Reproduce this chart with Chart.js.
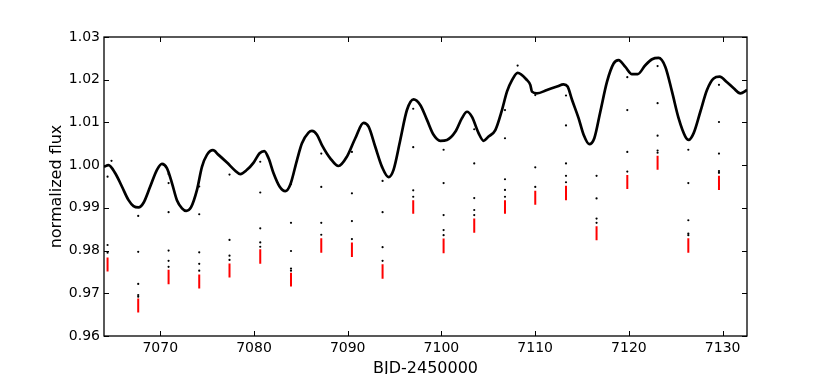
<!DOCTYPE html>
<html><head><meta charset="utf-8">
<script src="https://cdn.jsdelivr.net/npm/chart.js@4/dist/chart.umd.min.js"></script>
<style>html,body{margin:0;padding:0;background:#fff}#wrap{width:830px;height:374px}</style>
</head><body><div id="wrap"><canvas id="c" width="830" height="374"></canvas></div>
<script>
// Light curve (traced along the dense band of black points)
const curveTimes = [7064.0, 7064.48, 7065.20, 7065.91, 7066.62, 7067.15, 7067.68, 7068.22, 7068.93, 7069.65, 7070.18, 7070.71, 7071.25, 7071.78, 7072.32, 7072.77, 7073.28, 7073.92, 7074.45, 7074.98, 7075.62, 7076.22, 7077.12, 7078.00, 7078.54, 7079.25, 7079.96, 7080.60, 7081.10, 7081.56, 7082.09, 7082.73, 7083.34, 7083.87, 7084.59, 7085.12, 7085.82, 7086.19, 7086.72, 7087.25, 7088.14, 7089.02, 7089.92, 7090.81, 7091.69, 7092.23, 7092.94, 7093.66, 7094.36, 7094.89, 7095.61, 7096.32, 7097.03, 7097.74, 7098.46, 7099.16, 7099.88, 7100.59, 7101.48, 7102.19, 7102.73, 7103.26, 7103.96, 7104.50, 7105.03, 7105.75, 7106.46, 7106.99, 7107.53, 7108.13, 7109.13, 7109.48, 7109.66, 7110.19, 7111.26, 7112.33, 7113.03, 7113.46, 7113.93, 7114.63, 7115.17, 7115.77, 7116.31, 7116.95, 7117.66, 7118.37, 7118.90, 7119.62, 7120.33, 7120.93, 7121.75, 7122.47, 7123.17, 7123.89, 7124.60, 7125.30, 7126.02, 7126.37, 7126.91, 7127.62, 7128.33, 7129.04, 7129.68, 7130.47, 7131.18, 7131.89, 7132.61];
const curveFlux = [0.9996, 1.0000, 0.9981, 0.9950, 0.9918, 0.9904, 0.9901, 0.9912, 0.9950, 0.9989, 1.0003, 0.9993, 0.9958, 0.9918, 0.9899, 0.9893, 0.9901, 0.9942, 0.9996, 1.0024, 1.0035, 1.0024, 1.0006, 0.9987, 0.9979, 0.9989, 1.0006, 1.0028, 1.0033, 1.0016, 0.9981, 0.9950, 0.9939, 0.9954, 1.0012, 1.0051, 1.0076, 1.0080, 1.0071, 1.0047, 1.0016, 0.9998, 1.0020, 1.0063, 1.0099, 1.0090, 1.0043, 0.9996, 0.9972, 0.9989, 1.0059, 1.0129, 1.0154, 1.0141, 1.0106, 1.0071, 1.0057, 1.0059, 1.0078, 1.0110, 1.0125, 1.0113, 1.0075, 1.0057, 1.0067, 1.0082, 1.0129, 1.0172, 1.0199, 1.0216, 1.0199, 1.0188, 1.0172, 1.0168, 1.0176, 1.0184, 1.0189, 1.0184, 1.0153, 1.0110, 1.0071, 1.0049, 1.0063, 1.0125, 1.0195, 1.0238, 1.0246, 1.0230, 1.0213, 1.0213, 1.0234, 1.0248, 1.0251, 1.0230, 1.0172, 1.0110, 1.0067, 1.0059, 1.0075, 1.0125, 1.0176, 1.0203, 1.0207, 1.0194, 1.0180, 1.0168, 1.0176];

// Transits
const transitTimes = [7064.38, 7067.65, 7070.89, 7074.16, 7077.39, 7080.67, 7083.95, 7087.18, 7090.45, 7093.72, 7096.99, 7100.23, 7103.50, 7106.78, 7110.01, 7113.29, 7116.55, 7119.83, 7123.06, 7126.34, 7129.61];
const transitTop = [0.9784, 0.9688, 0.9755, 0.9744, 0.9770, 0.9803, 0.9748, 0.9829, 0.9819, 0.9768, 0.9918, 0.9828, 0.9875, 0.9918, 0.9940, 0.9952, 0.9857, 0.9977, 1.0022, 0.9829, 0.9975];
const transitBottom = [0.9751, 0.9655, 0.9721, 0.9711, 0.9737, 0.9769, 0.9716, 0.9795, 0.9785, 0.9734, 0.9886, 0.9794, 0.9842, 0.9886, 0.9907, 0.9918, 0.9824, 0.9944, 0.9989, 0.9795, 0.9942];
const transitDots = [
  [0.9973, 0.9813, 0.9795],
  [0.9881, 0.9797, 0.9722, 0.9696, 0.9692],
  [0.9979, 0.9958, 0.9890, 0.9800, 0.9776, 0.9762],
  [0.9950, 0.9885, 0.9796, 0.9769, 0.9753],
  [0.9978, 0.9825, 0.9788, 0.9778],
  [1.0008, 0.9936, 0.9852, 0.9819, 0.9809],
  [0.9956, 0.9865, 0.9799, 0.9758, 0.9753],
  [1.0027, 0.9949, 0.9865, 0.9837],
  [1.0031, 0.9934, 0.9869, 0.9827],
  [0.9963, 0.9890, 0.9808, 0.9776],
  [1.0132, 1.0042, 0.9941, 0.9926],
  [1.0036, 0.9958, 0.9883, 0.9848, 0.9836],
  [1.0084, 1.0004, 0.9923, 0.9895, 0.9883],
  [1.0129, 1.0063, 0.9967, 0.9942, 0.9926],
  [1.0164, 0.9995, 0.9949],
  [1.0163, 1.0093, 1.0004, 0.9975, 0.9960],
  [0.9975, 0.9922, 0.9875, 0.9865],
  [1.0206, 1.0129, 1.0031, 0.9985],
  [1.0232, 1.0145, 1.0069, 1.0034, 1.0029],
  [1.0036, 0.9958, 0.9871, 0.9840, 0.9836],
  [1.0188, 1.0101, 1.0027, 0.9986, 0.9982]
];
const outlierTimes = [7064.80, 7108.13];
const outlierFlux = [1.0010, 1.0233];

const xTicks = [7070, 7080, 7090, 7100, 7110, 7120, 7130];
const yTicks = [0.96, 0.97, 0.98, 0.99, 1.00, 1.01, 1.02, 1.03];
const xLabel = 'BJD-2450000';
const yLabel = 'normalized flux';

// build datasets from the arrays
const curveData = curveTimes.map((t, i) => ({x: t, y: curveFlux[i]}));
const redData = [];
transitTimes.forEach((t, i) => {
  redData.push({x: t, y: transitTop[i]}, {x: t, y: transitBottom[i]}, {x: t, y: null});
});
const dotData = [];
transitDots.forEach((arr, i) => arr.forEach(v => dotData.push({x: transitTimes[i], y: v})));
outlierTimes.forEach((t, i) => dotData.push({x: t, y: outlierFlux[i]}));

const framePlugin = {
  id: 'frame',
  afterDraw(chart) {
    const {ctx, chartArea: ca, scales} = chart;
    ctx.save();
    ctx.strokeStyle = '#000';
    ctx.lineWidth = 1;
    const tl = 5;
    ctx.beginPath();
    xTicks.forEach(v => {
      const p = Math.round(scales.x.getPixelForValue(v)) + 0.5;
      ctx.moveTo(p, ca.bottom); ctx.lineTo(p, ca.bottom - tl);
      ctx.moveTo(p, ca.top); ctx.lineTo(p, ca.top + tl);
    });
    yTicks.forEach(v => {
      const p = Math.round(scales.y.getPixelForValue(v)) + 0.5;
      ctx.moveTo(ca.left, p); ctx.lineTo(ca.left + tl, p);
      ctx.moveTo(ca.right, p); ctx.lineTo(ca.right - tl, p);
    });
    ctx.stroke();
    ctx.lineWidth = 1.3;
    ctx.strokeRect(ca.left, ca.top, ca.right - ca.left, ca.bottom - ca.top);
    ctx.restore();
  }
};

new Chart(document.getElementById('c'), {
  type: 'scatter',
  data: {
    datasets: [
      {data: redData, showLine: true, spanGaps: false, borderColor: '#ff0000', borderWidth: 2, pointRadius: 0, borderCapStyle: 'butt'},
      {data: dotData, pointRadius: 1.1, pointBackgroundColor: '#000', pointBorderWidth: 0, showLine: false},
      {data: curveData, showLine: true, borderColor: '#000', borderWidth: 2.7, pointRadius: 0, cubicInterpolationMode: 'monotone'}
    ]
  },
  options: {
    responsive: false,
    devicePixelRatio: 1,
    animation: false,
    events: [],
    layout: {padding: {left: 0, top: 37, right: 83, bottom: 0}},
    plugins: {legend: {display: false}, tooltip: {enabled: false}},
    scales: {
      x: {
        type: 'linear', min: 7064.0, max: 7132.6,
        afterBuildTicks: s => { s.ticks = xTicks.map(v => ({value: v})); },
        afterFit: s => { s.height = 38; },
        grid: {display: false, drawTicks: false},
        border: {display: false},
        ticks: {padding: 4, color: '#000', font: {family: 'DejaVu Sans', size: 14}, maxRotation: 0, callback: v => String(v)},
        title: {display: true, text: xLabel, color: '#000', font: {family: 'DejaVu Sans', size: 16}, padding: {top: 0, bottom: -4}}
      },
      y: {
        type: 'linear', min: 0.96, max: 1.03,
        afterBuildTicks: s => { s.ticks = yTicks.map(v => ({value: v})); },
        afterFit: s => { s.width = 104; },
        grid: {display: false, drawTicks: false},
        border: {display: false},
        ticks: {padding: 4, color: '#000', font: {family: 'DejaVu Sans', size: 14}, callback: v => v.toFixed(2)},
        title: {display: true, text: yLabel, color: '#000', font: {family: 'DejaVu Sans', size: 16}, padding: {top: 47, bottom: 0}}
      }
    }
  },
  plugins: [framePlugin]
});
</script>
</body></html>
